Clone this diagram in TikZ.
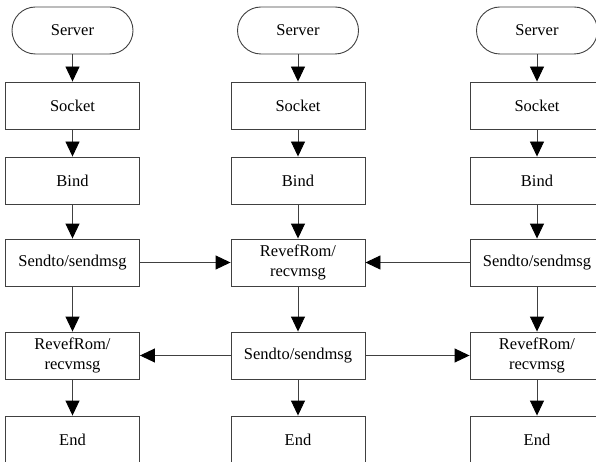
\documentclass[tikz,border=0pt]{standalone}
\usepackage{fontspec}
\setmainfont{Liberation Serif}
\usetikzlibrary{arrows.meta}
\begin{document}
\begin{tikzpicture}[x=1pt,y=-1pt,
  box/.style={draw=black!75, line width=0.9pt, minimum width=134pt, minimum height=47pt,
    inner sep=0pt, align=center, font=\fontsize{16.5}{19.5}\selectfont},
  term/.style={box, rounded corners=23.5pt, minimum width=121pt},
  arr/.style={draw=black!75, line width=0.9pt,
    -{Triangle[length=15pt,width=14pt,color=black]}}
]
\useasboundingbox (0,0) rectangle (596,462);
\clip (0,0) rectangle (596,462);
% left column
\node[term] (ls) at (72.5,30.5) {Server};
\node[box] (lk) at (72.5,105.5) {Socket};
\node[box] (lb) at (72.5,180.5) {Bind};
\node[box] (l4) at (72.5,262.5) {Sendto/sendmsg};
\node[box] (l5) at (72.5,355.5) {RevefRom/\\recvmsg};
\node[box] (le) at (72.5,439.5) {End};
% center column
\node[term] (cs) at (298,30.5) {Server};
\node[box] (ck) at (298,105.5) {Socket};
\node[box] (cb) at (298,180.5) {Bind};
\node[box] (c4) at (298,262.5) {RevefRom/\\recvmsg};
\node[box] (c5) at (298,355.5) {Sendto/sendmsg};
\node[box] (ce) at (298,439.5) {End};
% right column
\node[term] (rs) at (537,30.5) {Server};
\node[box] (rk) at (537,105.5) {Socket};
\node[box] (rb) at (537,180.5) {Bind};
\node[box] (r4) at (537,262.5) {Sendto/sendmsg};
\node[box] (r5) at (537,355.5) {RevefRom/\\recvmsg};
\node[box] (re) at (537,439.5) {End};
% vertical arrows
\foreach \c in {l,c,r}{
  \draw[arr] (\c s) -- (\c k);
  \draw[arr] (\c k) -- (\c b);
  \draw[arr] (\c b) -- (\c 4);
  \draw[arr] (\c 4) -- (\c 5);
  \draw[arr] (\c 5) -- (\c e);
}
% horizontal arrows
\draw[arr] (l4) -- (c4);
\draw[arr] (r4) -- (c4);
\draw[arr] (c5) -- (l5);
\draw[arr] (c5) -- (r5);
\end{tikzpicture}
\end{document}
